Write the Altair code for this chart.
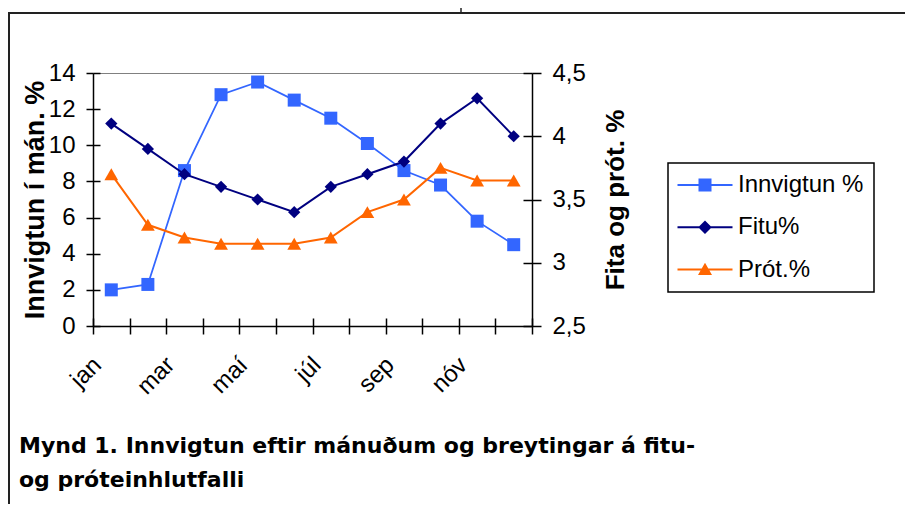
import altair as alt
import pandas as pd

# ---- data ----
months = ["jan", "feb", "mar", "apr", "maí", "jún", "júl", "ágú", "sep", "okt", "nóv", "des"]
innvigtun = [2.0, 2.3, 8.6, 12.8, 13.5, 12.5, 11.5, 10.1, 8.6, 7.8, 5.8, 4.5]
fitu = [4.1, 3.9, 3.7, 3.6, 3.5, 3.4, 3.6, 3.7, 3.8, 4.1, 4.3, 4.0]
prot = [3.7, 3.3, 3.2, 3.15, 3.15, 3.15, 3.2, 3.4, 3.5, 3.75, 3.65, 3.65]
series_names = ["Innvigtun %", "Fitu%", "Prót.%"]
series_colors = ["#3366FF", "#000080", "#FF6600"]
shown_months = months[::2]
left_ticks = [0, 2, 4, 6, 8, 10, 12, 14]
right_ticks = [2.5, 3, 3.5, 4, 4.5]
left_title = "Innvigtun í mán. %"
right_title = "Fita og prót. %"
caption = ["Mynd 1. Innvigtun eftir mánuðum og breytingar á fitu-",
           "og próteinhlutfalli"]

df = pd.DataFrame({
    "month": months * 3,
    "series": [series_names[0]] * 12 + [series_names[1]] * 12 + [series_names[2]] * 12,
    "value": innvigtun + fitu + prot,
})

FONT = "Liberation Sans"
BLACK = "black"

# legend symbols: a line with the marker on it (unit = sqrt(size)/2 px)
line_part = "M-5.5,-0.2L5.5,-0.2L5.5,0.2L-5.5,0.2Z"
legend_shapes = [
    line_part + "M-1.3,-1.3L1.3,-1.3L1.3,1.3L-1.3,1.3Z",
    line_part + "M0,-1.35L1.35,0L0,1.35L-1.35,0Z",
    line_part + "M0,-1.35L1.4,1.1L-1.4,1.1Z",
]

x_scale = alt.Scale(type="band", domain=months, paddingInner=0, paddingOuter=0)
label_test = "indexof(" + str(shown_months).replace('"', "'") + ", datum.value) >= 0 ? datum.label : ''"

x_main_axis = alt.Axis(
    orient="bottom", tickBand="extent", tickSize=8, tickWidth=1.5, tickColor=BLACK,
    domainColor=BLACK, domainWidth=1.5, labelAngle=315, labelAlign="right",
    labelBaseline="middle", labelPadding=27, labelOffset=-14, labelExpr=label_test,
    labelFont=FONT, labelFontSize=24, labelColor=BLACK, title=None, grid=False,
)
x_inner_axis = alt.Axis(
    orient="bottom", tickBand="extent", offset=-8, tickSize=8, tickWidth=1.5,
    tickColor=BLACK, labels=False, domain=False, title=None, grid=False,
)

left_scale = alt.Scale(domain=[0, 14], nice=False, zero=True)
right_scale = alt.Scale(domain=[2.5, 4.5], nice=False, zero=False)

left_main_axis = alt.Axis(
    orient="left", values=left_ticks, tickSize=7, tickWidth=1.5, tickColor=BLACK,
    domainColor=BLACK, domainWidth=1.5, labelFont=FONT, labelFontSize=24,
    labelColor=BLACK, labelPadding=11, title=left_title, titleFont=FONT,
    titleFontSize=27, titleFontWeight="bold", titleColor=BLACK, titleAngle=270,
    titleAlign="center", titleBaseline="alphabetic", titleX=-50, grid=False,
)
left_inner_axis = alt.Axis(
    orient="left", values=left_ticks, offset=-7, tickSize=7, tickWidth=1.5,
    tickColor=BLACK, labels=False, domain=False, title=None, grid=False,
)
right_main_axis = alt.Axis(
    orient="right", values=right_ticks, tickSize=9, tickWidth=1.5, tickColor=BLACK,
    domainColor=BLACK, domainWidth=1.5, labelFont=FONT, labelFontSize=24,
    labelColor=BLACK, labelPadding=11,
    labelExpr="replace(format(datum.value, '~g'), '.', ',')",
    title=right_title, titleFont=FONT, titleFontSize=26, titleFontWeight="bold",
    titleColor=BLACK, titleAngle=270, titleAlign="center",
    titleBaseline="alphabetic", titleX=91, grid=False,
)
right_inner_axis = alt.Axis(
    orient="right", values=right_ticks, offset=-9, tickSize=9, tickWidth=1.5,
    tickColor=BLACK, labels=False, domain=False, title=None, grid=False,
)

base = alt.Chart(df)


def sel(i):
    return base.transform_filter(alt.datum.series == series_names[i])


# ---- left (Innvigtun) group ----
inn_line = sel(0).mark_line(color=series_colors[0], strokeWidth=1.75).encode(
    x=alt.X("month:O", scale=x_scale, axis=x_main_axis),
    y=alt.Y("value:Q", scale=left_scale, axis=left_main_axis),
)
inn_pts = sel(0).mark_point(shape="square", filled=True, size=169, opacity=1,
                            color=series_colors[0]).encode(
    x=alt.X("month:O", scale=x_scale, axis=x_inner_axis),
    y=alt.Y("value:Q", scale=left_scale, axis=left_inner_axis),
)

legend_def = alt.Legend(
    title=None, orient="none", legendX=575, legendY=90, symbolSize=100,
    symbolOffset=15, labelOffset=21, labelFont=FONT, labelFontSize=24,
    labelColor=BLACK, rowPadding=18.3, padding=10, strokeColor=BLACK,
    fillColor="white", labelLimit=400,
)
legend_layer = base.transform_filter("false").mark_point(filled=True, opacity=1).encode(
    color=alt.Color("series:N", scale=alt.Scale(domain=series_names, range=series_colors),
                    legend=legend_def),
    shape=alt.Shape("series:N", scale=alt.Scale(domain=series_names, range=legend_shapes),
                    legend=legend_def),
)

one = alt.Chart(pd.DataFrame({"k": [0]}))
frame_top = one.mark_rule(color="#222222", strokeWidth=2).encode(
    x=alt.value(-85), x2=alt.value(812), y=alt.value(-60), y2=alt.value(-60))
frame_left = one.mark_rule(color="#222222", strokeWidth=2).encode(
    x=alt.value(-84), x2=alt.value(-84), y=alt.value(-60), y2=alt.value(431))
frame_tick = one.mark_rule(color="#222222", strokeWidth=1.5).encode(
    x=alt.value(368), x2=alt.value(368), y=alt.value(-66), y2=alt.value(-60))

left_group = alt.layer(inn_line, inn_pts, legend_layer, frame_top, frame_left, frame_tick
                       ).resolve_axis(x="independent", y="independent")

# ---- right (Fitu / Prót) group ----
fitu_line = sel(1).mark_line(color=series_colors[1], strokeWidth=2).encode(
    x=alt.X("month:O", scale=x_scale, axis=None),
    y=alt.Y("value:Q", scale=right_scale, axis=right_main_axis),
)
fitu_pts = sel(1).mark_point(shape="diamond", filled=True, size=150, opacity=1,
                             color=series_colors[1]).encode(
    x=alt.X("month:O", scale=x_scale, axis=None),
    y=alt.Y("value:Q", scale=right_scale, axis=right_inner_axis),
)
prot_line = sel(2).mark_line(color=series_colors[2], strokeWidth=2).encode(
    x=alt.X("month:O", scale=x_scale, axis=None),
    y=alt.Y("value:Q", scale=right_scale, axis=None),
)
prot_pts = sel(2).mark_point(shape="triangle-up", filled=True, size=190, opacity=1,
                             color=series_colors[2]).encode(
    x=alt.X("month:O", scale=x_scale, axis=None),
    y=alt.Y("value:Q", scale=right_scale, axis=None),
)
right_group = alt.layer(fitu_line, prot_line, fitu_pts, prot_pts).resolve_axis(y="independent")

chart = (
    alt.layer(left_group, right_group)
    .resolve_scale(y="independent")
    .properties(
        width=439, height=253,
        autosize=alt.AutoSizeParams(type="none"),
        padding={"left": 85, "top": 65, "right": 373, "bottom": 178},
        title=alt.TitleParams(
            text=caption, orient="bottom", anchor="start", frame="group",
            font="DejaVu Sans", fontSize=22, fontWeight="bold", color=BLACK,
            lineHeight=34, baseline="alphabetic", offset=0, dx=-74, dy=-52,
        ),
    )
    .configure(background="white")
    .configure_view(stroke="#808080", strokeWidth=1)
    .configure_legend(strokeWidth=1.5)
)

chart.save("out.html", embed_options={"renderer": "svg", "actions": False})
